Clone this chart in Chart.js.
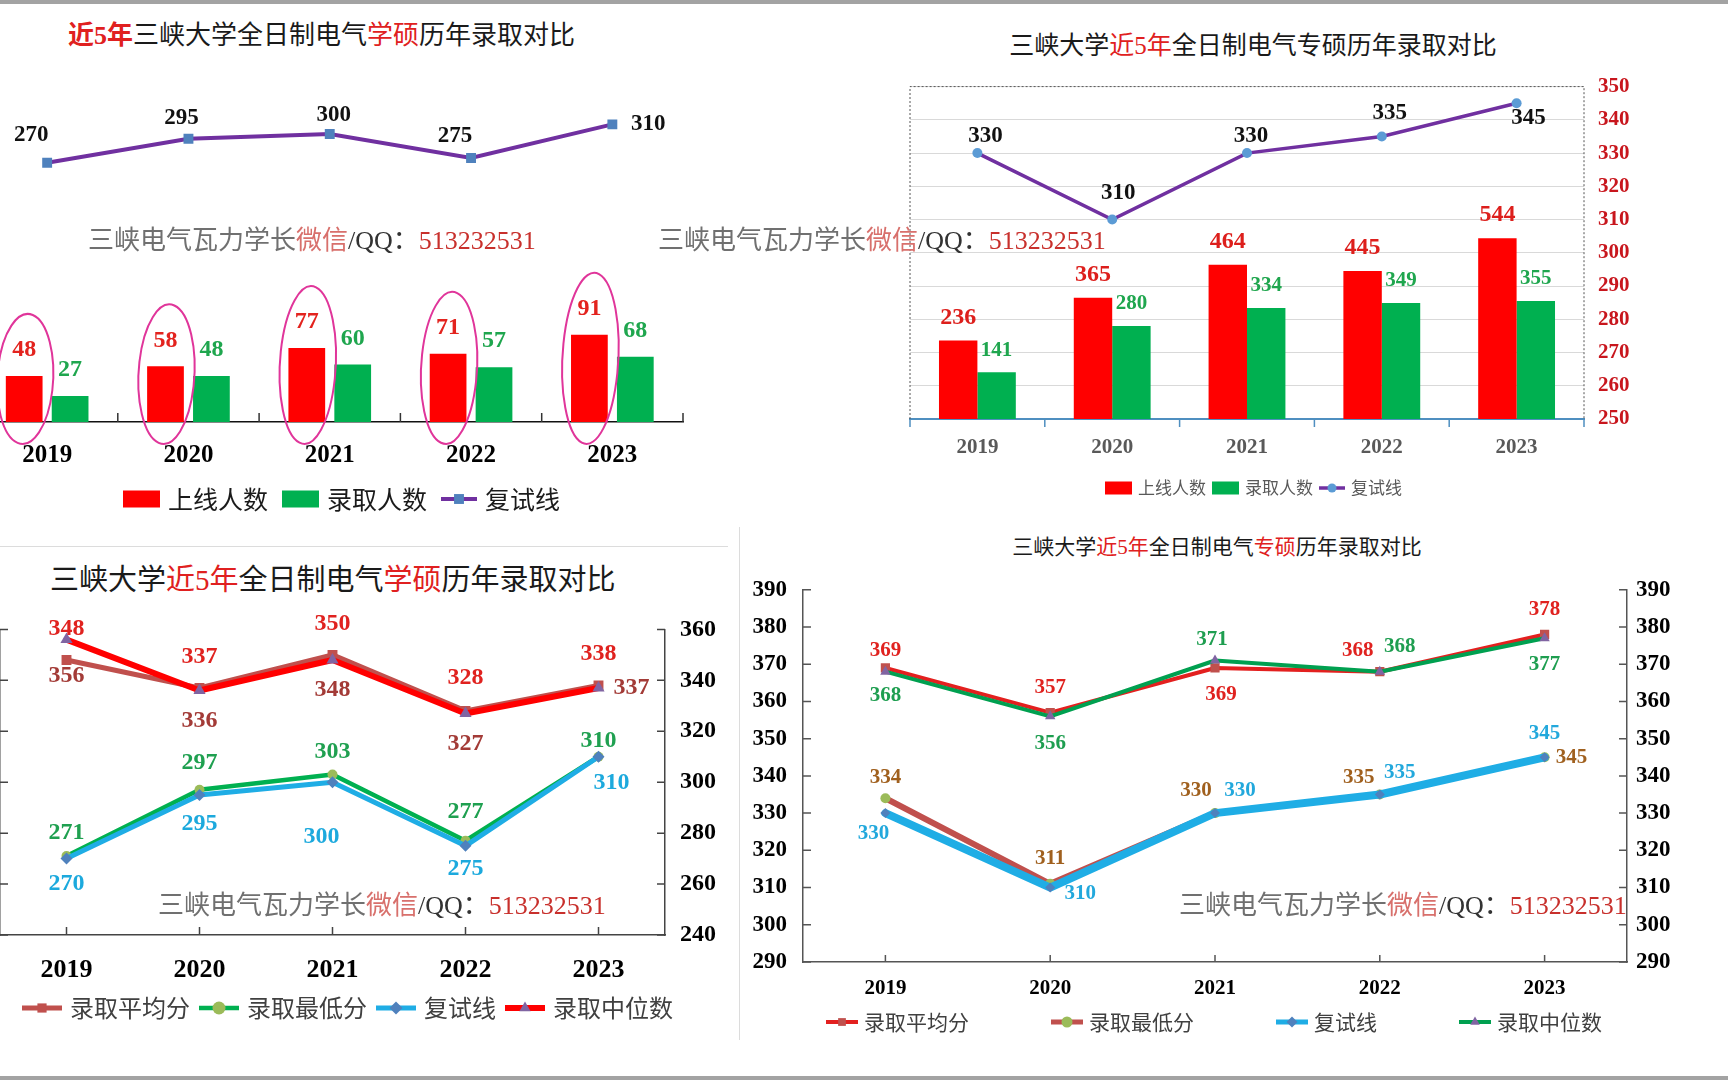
<!DOCTYPE html>
<html lang="zh-CN">
<head>
<meta charset="utf-8">
<title>三峡大学电气录取对比</title>
<script src="https://cdn.jsdelivr.net/npm/chart.js"></script>
<style>
  html, body { margin: 0; padding: 0; }
  body { width: 1728px; height: 1080px; position: relative; overflow: hidden; background: #fff; }
  canvas { position: absolute; }
  .band { position: absolute; left: 0; width: 1728px; height: 4px; background: #a3a3a3; }
  .sep { position: absolute; background: #dcdcdc; }
  .title, .wm { position: absolute; white-space: nowrap; line-height: 1; z-index: 2;
    font-family: "Liberation Serif", "Noto Sans CJK SC", serif; }
  .title { color: #1a1a1a; transform: translateY(-50%); }
  .title.mid { transform: translate(-50%, -50%); }
  .red { color: #e02020; }
  .wm { font-size: 26px; transform: translateY(-50%); color: #707070; }
  .wm .wx { color: #d8706c; }
  .wm .qq { color: #333; }
  .wm .num { color: #c8302c; }
</style>
</head>
<body>
<div class="band" style="top:0"></div>
<div class="band" style="top:1076px"></div>
<div class="sep" style="left:0;top:546px;width:728px;height:1px"></div>
<div class="sep" style="left:739px;top:527px;width:1px;height:513px"></div>

<div class="title" style="left:68px;top:36px;font-size:26px"><b class="red">近5年</b>三峡大学全日制电气<span class="red">学硕</span>历年录取对比</div>
<div class="title mid" style="left:1253px;top:45px;font-size:25px">三峡大学<span class="red">近5年</span>全日制电气专硕历年录取对比</div>
<div class="title" style="left:50px;top:580px;font-size:29px">三峡大学<span class="red">近5年</span>全日制电气<span class="red">学硕</span>历年录取对比</div>
<div class="title mid" style="left:1217px;top:547px;font-size:21px">三峡大学<span class="red">近5年</span>全日制电气<span class="red">专硕</span>历年录取对比</div>

<div class="wm" style="left:88px;top:241px">三峡电气瓦力学长<span class="wx">微信</span><span class="qq">/QQ：</span><span class="num">513232531</span></div>
<div class="wm" style="left:658px;top:241px">三峡电气瓦力学长<span class="wx">微信</span><span class="qq">/QQ：</span><span class="num">513232531</span></div>
<div class="wm" style="left:158px;top:906px">三峡电气瓦力学长<span class="wx">微信</span><span class="qq">/QQ：</span><span class="num">513232531</span></div>
<div class="wm" style="left:1179px;top:906px">三峡电气瓦力学长<span class="wx">微信</span><span class="qq">/QQ：</span><span class="num">513232531</span></div>

<script>
const years = ['2019', '2020', '2021', '2022', '2023'];

// 学硕: 上线人数 / 录取人数 / 复试线
const xsOnline = [48, 58, 77, 71, 91];
const xsAdmit = [27, 48, 60, 57, 68];
const xsRetest = [270, 295, 300, 275, 310];

// 专硕: 上线人数 / 录取人数 / 复试线
const zsOnline = [236, 365, 464, 445, 544];
const zsAdmit = [141, 280, 334, 349, 355];
const zsRetest = [330, 310, 330, 335, 345];

// 学硕分数
const xsAvg = [348, 337, 350, 328, 338];
const xsMin = [271, 297, 303, 277, 310];
const xsMedian = [356, 336, 348, 327, 337];

// 专硕分数
const zsAvg = [369, 357, 369, 368, 378];
const zsMin = [334, 311, 330, 335, 345];
const zsMedian = [368, 356, 371, 368, 377];

const SERIF = '"Liberation Serif", "Times New Roman", serif';
const SANS = '"Noto Sans CJK SC", "Noto Sans", sans-serif';
Chart.defaults.font.family = SERIF;

// canvas placed on the page, padding so the plot area lands where wanted
function frame(box, area, s) {
  const c = document.createElement('canvas');
  c.width = box.w; c.height = box.h;
  Object.assign(c.style, { left: box.x + 'px', top: box.y + 'px', width: box.w + 'px', height: box.h + 'px' });
  document.body.appendChild(c);
  const padding = {
    left: area.l - box.x - (s.l || 0),
    right: box.x + box.w - area.r - (s.r || 0),
    top: area.t - box.y,
    bottom: box.y + box.h - area.b - (s.b || 0)
  };
  return { c, padding };
}

const fixW = w => s => { s.width = w; };
const fixH = h => s => { s.height = h; };

function xAxis(o) {
  return {
    offset: true,
    grid: { display: false, drawTicks: false },
    border: { display: true, color: o.line, width: o.lw },
    ticks: { color: o.color, padding: o.pad, maxRotation: 0, autoSkip: false,
      font: { family: SERIF, size: o.size, weight: 'bold' } },
    afterFit: fixH(o.h)
  };
}

function marker(ctx, style, x, y, r, fill) {
  ctx.save();
  ctx.fillStyle = fill;
  ctx.beginPath();
  if (style === 'rect') {
    const s = r * Math.SQRT2;
    ctx.rect(x - s / 2, y - s / 2, s, s);
  } else if (style === 'rectRot') {
    ctx.moveTo(x, y - r); ctx.lineTo(x + r, y); ctx.lineTo(x, y + r); ctx.lineTo(x - r, y); ctx.closePath();
  } else if (style === 'triangle') {
    ctx.moveTo(x, y - r); ctx.lineTo(x + r * 0.866, y + r / 2); ctx.lineTo(x - r * 0.866, y + r / 2); ctx.closePath();
  } else {
    ctx.arc(x, y, r, 0, Math.PI * 2);
  }
  ctx.fill();
  ctx.restore();
}

// numbers next to bars / points, read from the datasets
const valueLabels = {
  id: 'valueLabels',
  afterDatasetsDraw(chart) {
    const ctx = chart.ctx;
    chart.data.datasets.forEach((ds, i) => {
      const o = ds.vl;
      if (!o) return;
      const meta = chart.getDatasetMeta(i);
      ctx.save();
      ctx.font = 'bold ' + o.size + 'px ' + SERIF;
      ctx.fillStyle = o.color;
      ctx.textAlign = 'center';
      ctx.textBaseline = 'middle';
      meta.data.forEach((el, j) => {
        const off = o.offsets ? o.offsets[j] : [0, o.dy];
        ctx.fillText(String(ds.data[j]), el.x + off[0], el.y + off[1]);
      });
      ctx.restore();
    });
  }
};

// short tick marks drawn inside / outside the axes
function innerTicks(list) {
  return {
    id: 'innerTicks',
    afterDraw(chart) {
      const { ctx, chartArea: a } = chart;
      list.forEach(t => {
        const s = chart.scales[t.id];
        ctx.save();
        ctx.strokeStyle = t.color;
        ctx.lineWidth = t.width || 1;
        ctx.beginPath();
        if (t.id === 'x') {
          const n = chart.data.labels.length;
          const xs = t.mode === 'bounds'
            ? Array.from({ length: n + 1 }, (_, k) => a.left + k * a.width / n)
            : chart.data.labels.map((_, k) => s.getPixelForValue(k));
          xs.forEach(x => { ctx.moveTo(x, a.bottom); ctx.lineTo(x, a.bottom + t.len); });
        } else {
          const x0 = s.position === 'left' ? a.left : a.right;
          const dir = s.position === 'left' ? 1 : -1;
          s.ticks.forEach(tk => {
            const y = s.getPixelForValue(tk.value);
            ctx.moveTo(x0, y); ctx.lineTo(x0 + dir * t.len, y);
          });
        }
        ctx.stroke();
        ctx.restore();
      });
    }
  };
}

// one-row legend, spacing like the original office chart
function rowLegend(o) {
  return {
    id: 'rowLegend',
    afterDraw(chart) {
      const ctx = chart.ctx;
      let x = o.x - chart.canvas.offsetLeft;
      const y = o.y - chart.canvas.offsetTop;
      ctx.save();
      ctx.font = o.size + 'px ' + SANS;
      ctx.textBaseline = 'middle';
      ctx.textAlign = 'left';
      chart.data.datasets.forEach(ds => {
        if ((ds.type || chart.config.type) === 'bar') {
          ctx.fillStyle = ds.backgroundColor;
          ctx.fillRect(x, y - o.boxH / 2, o.boxW, o.boxH);
          x += o.boxW;
        } else {
          ctx.strokeStyle = ds.borderColor;
          ctx.lineWidth = Math.min(ds.borderWidth, o.maxLW || 99);
          ctx.beginPath(); ctx.moveTo(x, y); ctx.lineTo(x + o.lineW, y); ctx.stroke();
          marker(ctx, ds.pointStyle, x + o.lineW / 2, y, o.markR, ds.pointBackgroundColor);
          x += o.lineW;
        }
        x += o.textGap;
        ctx.fillStyle = o.color;
        ctx.fillText(ds.label, x, y);
        x += ctx.measureText(ds.label).width + o.itemGap;
      });
      ctx.restore();
    }
  };
}

// pen circles drawn round the 上线人数 bars
function ringBars(o) {
  return {
    id: 'ringBars',
    afterDatasetsDraw(chart) {
      const ctx = chart.ctx;
      const meta = chart.getDatasetMeta(o.dataset);
      ctx.save();
      ctx.strokeStyle = o.color;
      ctx.lineWidth = o.lw;
      meta.data.forEach(el => {
        const top = el.y - o.above, bot = el.base + o.below;
        ctx.beginPath();
        ctx.ellipse(el.x + 1, (top + bot) / 2, o.rx, (bot - top) / 2, o.rot, -Math.PI * 0.7, Math.PI * 1.42);
        ctx.stroke();
      });
      ctx.restore();
    }
  };
}

function dotFrame(color) {
  return {
    id: 'dotFrame',
    beforeDatasetsDraw(chart) {
      const { ctx, chartArea: a } = chart;
      ctx.save();
      ctx.strokeStyle = color;
      ctx.lineWidth = 1;
      ctx.setLineDash([2, 2]);
      ctx.beginPath();
      ctx.moveTo(a.left, a.bottom); ctx.lineTo(a.left, a.top); ctx.lineTo(a.right, a.top); ctx.lineTo(a.right, a.bottom);
      ctx.stroke();
      ctx.restore();
    }
  };
}

const base = pad => ({
  responsive: false,
  animation: false,
  layout: { padding: pad },
  plugins: { legend: { display: false }, tooltip: { enabled: false } }
});

// ---- chart 1: 学硕 上线/录取人数 + 复试线 ----
{
  const f = frame({ x: -40, y: 60, w: 780, h: 480 }, { l: -23.5, r: 683, t: 86, b: 422 }, { b: 45 });
  new Chart(f.c, {
    type: 'bar',
    data: {
      labels: years,
      datasets: [
        { label: '上线人数', data: xsOnline, backgroundColor: '#ff0000', barPercentage: 0.8, categoryPercentage: 0.65, order: 1,
          vl: { color: '#e3231e', size: 24, dy: -26 } },
        { label: '录取人数', data: xsAdmit, backgroundColor: '#00b050', barPercentage: 0.8, categoryPercentage: 0.65, order: 1,
          vl: { color: '#1fa64e', size: 24, dy: -26 } },
        { type: 'line', label: '复试线', data: xsRetest, borderColor: '#7030a0', borderWidth: 4, tension: 0,
          pointStyle: 'rect', pointRadius: 7, pointBackgroundColor: '#4f81bd', pointBorderWidth: 0, order: 0,
          vl: { color: '#111', size: 23, offsets: [[-16, -28], [-7, -21], [4, -19], [-16, -22], [36, 0]] } }
      ]
    },
    options: Object.assign(base(f.padding), {
      scales: {
        x: xAxis({ line: '#111', lw: 1.5, color: '#000', size: 25, pad: 19, h: 45 }),
        y: { display: false, min: 0, max: 350 }
      }
    }),
    plugins: [
      ringBars({ dataset: 0, color: '#e0359a', lw: 2, rx: 28, above: 62, below: 22, rot: 0.05 }),
      valueLabels,
      innerTicks([{ id: 'x', mode: 'bounds', len: -9, color: '#333', width: 1.5 }]),
      rowLegend({ x: 123, y: 499, size: 25, color: '#1a1a1a', boxW: 37, boxH: 17, lineW: 36, markR: 7, textGap: 8, itemGap: 14 })
    ]
  });
}

// ---- chart 2: 专硕 上线/录取人数 + 复试线 ----
{
  const f = frame({ x: 860, y: 60, w: 840, h: 460 }, { l: 910, r: 1584, t: 86, b: 419 }, { r: 70, b: 45 });
  new Chart(f.c, {
    type: 'bar',
    data: {
      labels: years,
      datasets: [
        { label: '上线人数', data: zsOnline, backgroundColor: '#ff0000', barPercentage: 1, categoryPercentage: 0.57, yAxisID: 'y', order: 1,
          vl: { color: '#dd1f1c', size: 24, dy: -23 } },
        { label: '录取人数', data: zsAdmit, backgroundColor: '#00b050', barPercentage: 1, categoryPercentage: 0.57, yAxisID: 'y', order: 1,
          vl: { color: '#1fa64e', size: 21, dy: -22 } },
        { type: 'line', label: '复试线', data: zsRetest, yAxisID: 'y1', borderColor: '#7030a0', borderWidth: 3.5, tension: 0,
          pointStyle: 'circle', pointRadius: 5, pointBackgroundColor: '#5b9bd5', pointBorderWidth: 0, order: 0,
          vl: { color: '#111', size: 23, offsets: [[8, -17], [6, -26], [4, -17], [8, -23], [12, 15]] } }
      ]
    },
    options: Object.assign(base(f.padding), {
      scales: {
        x: xAxis({ line: '#4f8fc0', lw: 2, color: '#595959', size: 21, pad: 16, h: 45 }),
        y: { display: false, min: 0, max: 1000 },
        y1: {
          position: 'right', min: 250, max: 350,
          grid: { color: '#d9d9d9', drawTicks: false },
          border: { display: false },
          ticks: { stepSize: 10, padding: 14, color: '#c8161d', font: { family: SERIF, size: 21, weight: 'bold' } },
          afterFit: fixW(70)
        }
      }
    }),
    plugins: [
      dotFrame('#555'),
      valueLabels,
      innerTicks([{ id: 'x', mode: 'bounds', len: 8, color: '#4f8fc0', width: 1.5 }]),
      rowLegend({ x: 1105, y: 488, size: 17, color: '#595959', boxW: 27, boxH: 13, lineW: 26, markR: 4.5, textGap: 6, itemGap: 6 })
    ]
  });
}

// ---- chart 3: 学硕 分数 ----
{
  const f = frame({ x: -70, y: 600, w: 810, h: 440 }, { l: 0, r: 665, t: 625, b: 935 }, { l: 60, r: 65, b: 50 });
  const yOpt = pos => ({
    position: pos, min: 240, max: 360,
    grid: { display: false, drawTicks: false },
    border: { display: true, color: '#444', width: 1.5 },
    ticks: { stepSize: 20, padding: 15, color: '#000', font: { family: SERIF, size: 24, weight: 'bold' } },
    afterFit: fixW(pos === 'left' ? 60 : 65)
  });
  const line = { tension: 0, pointBorderWidth: 0, borderCapStyle: 'round', borderJoinStyle: 'round', fill: false };
  new Chart(f.c, {
    type: 'line',
    data: {
      labels: years,
      datasets: [
        Object.assign({ label: '录取平均分', data: xsAvg, borderColor: '#c0504d', borderWidth: 5, pointStyle: 'rect', pointRadius: 7,
          pointBackgroundColor: '#c0504d', order: 3,
          vl: { color: '#e0221f', size: 24, offsets: [[0, -31], [0, -31], [0, -31], [0, -33], [0, -32]] } }, line),
        Object.assign({ label: '录取最低分', data: xsMin, borderColor: '#00b050', borderWidth: 4.5, pointStyle: 'circle', pointRadius: 5,
          pointBackgroundColor: '#9bbb59', order: 2,
          vl: { color: '#1fa050', size: 24, offsets: [[0, -23], [0, -27], [0, -23], [0, -29], [0, -16]] } }, line),
        Object.assign({ label: '复试线', data: xsRetest, borderColor: '#1fade5', borderWidth: 5, pointStyle: 'rectRot', pointRadius: 6,
          pointBackgroundColor: '#4f81bd', order: 1,
          vl: { color: '#1ca9dd', size: 24, offsets: [[0, 25], [0, 29], [-11, 55], [0, 23], [13, 26]] } }, line),
        Object.assign({ label: '录取中位数', data: xsMedian, borderColor: '#ff0000', borderWidth: 6, pointStyle: 'triangle', pointRadius: 7,
          pointBackgroundColor: '#8064a2', order: 0,
          vl: { color: '#a33b37', size: 24, offsets: [[0, 36], [0, 30], [0, 30], [0, 30], [33, 0]] } }, line)
      ]
    },
    options: Object.assign(base(f.padding), {
      scales: {
        x: xAxis({ line: '#444', lw: 1.5, color: '#000', size: 26, pad: 20, h: 50 }),
        y: yOpt('left'),
        y1: yOpt('right')
      }
    }),
    plugins: [
      valueLabels,
      innerTicks([
        { id: 'x', mode: 'center', len: -8, color: '#444', width: 1.5 },
        { id: 'y', len: 8, color: '#444', width: 1.5 },
        { id: 'y1', len: 8, color: '#444', width: 1.5 }
      ]),
      rowLegend({ x: 22, y: 1008, size: 24, color: '#404040', lineW: 40, markR: 6.5, textGap: 8, itemGap: 9, maxLW: 6 })
    ]
  });
}

// ---- chart 4: 专硕 分数 ----
{
  const f = frame({ x: 745, y: 560, w: 975, h: 480 }, { l: 803, r: 1627, t: 586, b: 962 }, { l: 50, r: 60, b: 45 });
  const yOpt = (pos, padX) => ({
    position: pos, min: 290, max: 390,
    grid: { display: false, drawTicks: false },
    border: { display: true, color: '#555', width: 1.5 },
    ticks: { stepSize: 10, padding: padX, color: '#000', font: { family: SERIF, size: 23, weight: 'bold' } },
    afterFit: fixW(pos === 'left' ? 50 : 60)
  });
  const line = { tension: 0, pointBorderWidth: 0, borderCapStyle: 'round', borderJoinStyle: 'round', fill: false };
  new Chart(f.c, {
    type: 'line',
    data: {
      labels: years,
      datasets: [
        Object.assign({ label: '录取平均分', data: zsAvg, borderColor: '#e3201f', borderWidth: 4, pointStyle: 'rect', pointRadius: 6.5,
          pointBackgroundColor: '#c0504d', order: 3,
          vl: { color: '#e0221f', size: 21, offsets: [[0, -17], [0, -25], [6, 27], [-22, -21], [0, -25]] } }, line),
        Object.assign({ label: '录取最低分', data: zsMin, borderColor: '#c0504d', borderWidth: 6, pointStyle: 'circle', pointRadius: 5,
          pointBackgroundColor: '#9bbb59', order: 1,
          vl: { color: '#a0601e', size: 21, offsets: [[0, -21], [0, -25], [-19, -23], [-21, -17], [27, 0]] } }, line),
        Object.assign({ label: '复试线', data: zsRetest, borderColor: '#1fade5', borderWidth: 8, pointStyle: 'rectRot', pointRadius: 5,
          pointBackgroundColor: '#4f81bd', order: 0,
          vl: { color: '#22a8dc', size: 21, offsets: [[-12, 20], [30, 6], [25, -23], [20, -22], [0, -24]] } }, line),
        Object.assign({ label: '录取中位数', data: zsMedian, borderColor: '#00a050', borderWidth: 4, pointStyle: 'triangle', pointRadius: 6,
          pointBackgroundColor: '#8064a2', order: 2,
          vl: { color: '#1e9e50', size: 21, offsets: [[0, 24], [0, 27], [-3, -21], [20, -25], [0, 26]] } }, line)
      ]
    },
    options: Object.assign(base(f.padding), {
      scales: {
        x: xAxis({ line: '#555', lw: 1.5, color: '#000', size: 21, pad: 14, h: 45 }),
        y: yOpt('left', 16),
        y1: yOpt('right', 9)
      }
    }),
    plugins: [
      valueLabels,
      innerTicks([
        { id: 'x', mode: 'center', len: -7, color: '#555', width: 1.5 },
        { id: 'y', len: 8, color: '#555', width: 1.5 },
        { id: 'y1', len: 8, color: '#555', width: 1.5 }
      ]),
      rowLegend({ x: 826, y: 1022, size: 21, color: '#404040', lineW: 32, markR: 5.5, textGap: 6, itemGap: 82, maxLW: 5 })
    ]
  });
}
</script>
</body>
</html>
